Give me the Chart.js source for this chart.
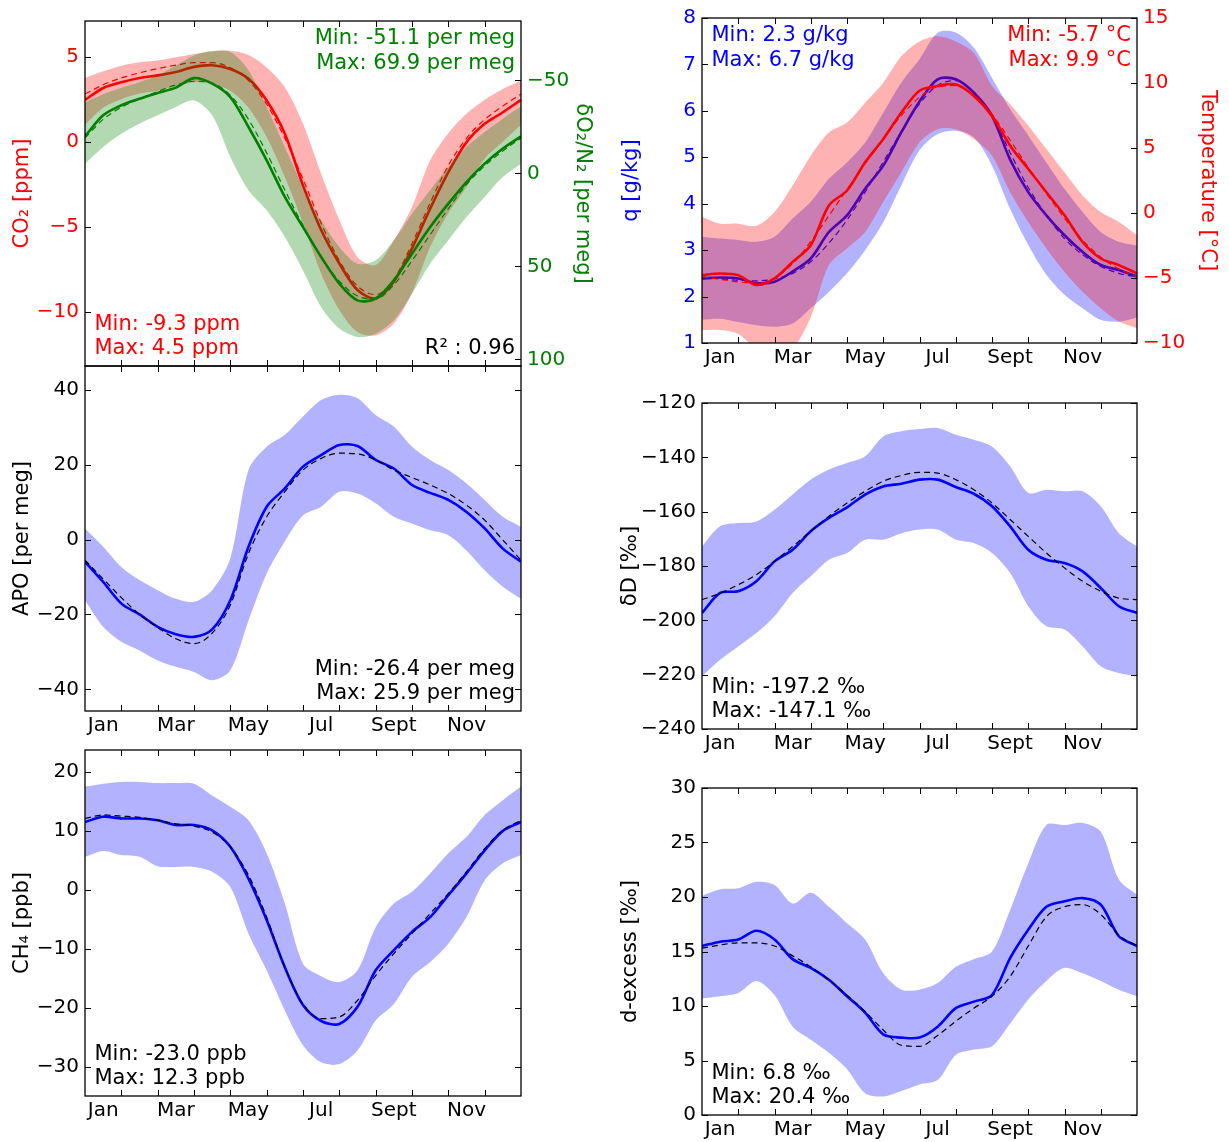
<!DOCTYPE html>
<html>
<head>
<meta charset="utf-8">
<script src="https://cdn.jsdelivr.net/npm/chart.js@4.4.0/dist/chart.umd.min.js"></script>
<style>
  body { margin: 0; background: #fff; width: 1229px; height: 1142px; position: relative; overflow: hidden; }
  canvas { position: absolute; }
</style>
</head>
<body>
<canvas id="cA"></canvas>
<canvas id="cB"></canvas>
<canvas id="cC"></canvas>
<canvas id="cD"></canvas>
<canvas id="cE"></canvas>
<canvas id="cF"></canvas>
<script>
// x positions in months (0 = 1 Jan, 12 = 31 Dec), one point every half month
const MONTH_POS = [0, 0.5, 1, 1.5, 2, 2.5, 3, 3.5, 4, 4.5, 5, 5.5, 6, 6.5, 7, 7.5, 8, 8.5, 9, 9.5, 10, 10.5, 11, 11.5, 12];
const MONTH_EDGES = [1, 2, 3, 4, 5, 6, 7, 8, 9, 10, 11];
const LABEL_POS = [0.5, 2.5, 4.5, 6.5, 8.5, 10.5];
const MONTH_LABELS = ["Jan", "Mar", "May", "Jul", "Sept", "Nov"];

// tick labels
const CO2_TICKS = [-10, -5, 0, 5];
const O2_TICKS = [-50, 0, 50, 100];
const Q_TICKS = [1, 2, 3, 4, 5, 6, 7, 8];
const T_TICKS = [-10, -5, 0, 5, 10, 15];
const APO_TICKS = [-40, -20, 0, 20, 40];
const DD_TICKS = [-240, -220, -200, -180, -160, -140, -120];
const CH4_TICKS = [-30, -20, -10, 0, 10, 20];
const DEX_TICKS = [0, 5, 10, 15, 20, 25, 30];

// CO2 [ppm]
const co2Mean = [2.46, 3.16, 3.5, 3.75, 3.9, 4.1, 4.4, 4.5, 4.28, 3.7, 2.42, 0.46, -2.57, -5.2, -7.17, -8.73, -9.22, -8.24, -6.28, -3.94, -1.79, -0.03, 1.05, 1.73, 2.46];
const co2Fit = [2.8, 3.35, 3.75, 4.05, 4.3, 4.5, 4.65, 4.65, 4.35, 3.6, 2.2, 0.2, -2.2, -4.8, -7.0, -8.5, -9.0, -8.1, -6.0, -3.6, -1.4, 0.2, 1.3, 2.1, 2.8];
const co2Hi = [3.75, 4.14, 4.47, 4.67, 4.77, 4.96, 5.16, 5.31, 5.35, 5.1, 4.37, 3.2, 1.05, -1.9, -4.6, -6.8, -7.26, -5.8, -3.84, -1.1, 0.5, 1.64, 2.46, 3.1, 3.6];
const co2Lo = [1.0, 2.0, 2.5, 2.83, 3.0, 3.24, 3.5, 3.4, 3.0, 2.0, 0.27, -2.08, -4.8, -7.75, -9.9, -11.2, -11.4, -10.7, -8.9, -6.2, -4.2, -2.67, -1.0, 0.0, 1.0];

// dO2/N2 [per meg]
const o2Mean = [-19.9, -31.2, -36.6, -40.1, -43.2, -46.1, -51.2, -48.2, -41.0, -24.9, -7.0, 12.7, 28.9, 45.0, 59.3, 68.3, 67.4, 57.5, 43.2, 28.9, 16.3, 4.7, -5.2, -13.3, -19.9];
const o2Fit = [-19, -29, -35.5, -40, -44, -47.5, -49.5, -48.5, -42, -29, -11, 9, 28, 45, 58, 66, 67.5, 60, 47, 33, 19, 6, -4, -12, -19];
const o2Lo = [-38, -42.5, -46, -49, -52.7, -58, -63.4, -65.8, -65.2, -55.4, -35.7, -14.2, 7.3, 25.3, 39.6, 48.6, 46.8, 36, 21.7, 9.1, -3.4, -14.2, -22.2, -29.4, -36];
const o2Hi = [-5.2, -14.2, -21.3, -26.7, -31.2, -35.7, -39.2, -31.2, -8.8, 9.1, 19.9, 34.2, 52.2, 71.9, 83.5, 88, 86.2, 79, 64.7, 48.6, 36, 23.5, 12.7, 2, -5.2];

// q [g/kg]
const qMean = [2.39, 2.41, 2.39, 2.29, 2.32, 2.54, 2.82, 3.39, 3.75, 4.32, 4.82, 5.54, 6.2, 6.68, 6.68, 6.39, 5.89, 4.95, 4.25, 3.75, 3.32, 2.96, 2.68, 2.57, 2.43];
const qFit = [2.42, 2.38, 2.35, 2.34, 2.38, 2.5, 2.75, 3.15, 3.65, 4.25, 4.9, 5.55, 6.15, 6.55, 6.65, 6.4, 5.9, 5.1, 4.35, 3.75, 3.25, 2.9, 2.65, 2.5, 2.42];
const qHi = [3.29, 3.25, 3.22, 3.18, 3.29, 3.68, 4.04, 4.54, 4.89, 5.32, 5.96, 6.61, 7.11, 7.68, 7.69, 7.36, 6.71, 6.04, 5.47, 4.89, 4.32, 3.82, 3.39, 3.18, 3.1];
const qLo = [1.5, 1.52, 1.45, 1.38, 1.35, 1.42, 1.75, 2.1, 2.5, 3.0, 3.6, 4.4, 5.15, 5.5, 5.57, 5.43, 4.82, 3.89, 3.11, 2.47, 2.04, 1.75, 1.5, 1.46, 1.55];

// temperature [°C]
const tMean = [-4.78, -4.65, -4.78, -5.54, -5.03, -3.76, -2.48, 0.58, 1.73, 3.9, 5.69, 7.73, 9.4, 9.77, 9.9, 9.0, 7.47, 5.18, 3.39, 1.6, -0.18, -2.23, -3.5, -4.01, -4.65];
const tFit = [-4.9, -5.1, -5.3, -5.4, -5.0, -3.9, -2.2, -0.2, 1.8, 3.8, 5.7, 7.5, 8.9, 9.7, 9.8, 9.1, 7.6, 5.6, 3.5, 1.5, -0.4, -2.1, -3.4, -4.3, -4.9];
const tHi = [-0.31, -0.82, -0.82, -0.99, 0.07, 2.11, 4.41, 6.19, 6.96, 8.49, 10.02, 12.07, 13.2, 13.6, 13.2, 12.3, 9.77, 8.37, 6.71, 4.92, 3.13, 1.35, 0.07, -0.7, -1.72];
const tLo = [-9.0, -9.0, -9.3, -10.4, -10.6, -10.4, -8.0, -4.0, -2.73, -1.46, 0.84, 3.13, 5.43, 6.45, 6.45, 5.69, 4.41, 1.6, -0.7, -2.73, -4.53, -6.06, -7.33, -8.35, -8.86];

// APO [per meg]
const apoMean = [-5.9, -11.3, -17.1, -20.0, -23.3, -25.3, -26.0, -24.0, -16.2, -1.9, 8.8, 13.7, 19.5, 22.6, 25.3, 25.0, 21.3, 19.0, 14.6, 12.5, 10.6, 7.4, 3.0, -2.4, -5.9];
const apoFit = [-5.5, -10.5, -15.5, -20, -23.5, -26.5, -27.8, -25, -17.5, -3.7, 6.1, 12.8, 18.6, 21.7, 23.1, 22.9, 21.3, 18.6, 16.6, 14.6, 12.3, 9.2, 5.2, -0.1, -5.5];
const apoHi = [3.0, -1.9, -7.3, -10.8, -13.5, -15.8, -16.6, -13.5, -5.0, 18.6, 24.8, 28.0, 32.9, 37.3, 38.7, 37.8, 33.3, 30.2, 24.8, 21.3, 18.6, 15.0, 10.6, 6.1, 3.4];
const apoLo = [-16.2, -23.3, -27.3, -29.6, -32.3, -34.0, -35.4, -37.6, -34.9, -21.6, -9.1, -0.5, 6.5, 8.8, 12.8, 12.3, 9.7, 6.1, 4.3, 2.5, 1.2, -2.9, -8.2, -12.6, -15.8];

// dD [permil]
const ddMean = [-197.3, -189.9, -189.3, -185.6, -178.3, -174.0, -167.2, -162.3, -158.4, -153.7, -150.7, -149.7, -148.2, -148.2, -150.9, -153.4, -158.0, -165.4, -174.0, -177.7, -178.9, -182.0, -188.1, -194.8, -197.3];
const ddFit = [-192.4, -190, -186.9, -183.2, -178.3, -172.8, -167.2, -161.7, -156.8, -152.5, -148.8, -146.7, -145.5, -145.8, -148.2, -151.9, -156.8, -162.9, -169.1, -175.2, -180.7, -185.6, -189.3, -191.8, -192.4];
const ddHi = [-172.8, -165.4, -164.2, -163.6, -159.3, -153.7, -148.2, -144.5, -142.1, -139.6, -132.3, -130.4, -129.6, -129.2, -131.7, -133.5, -136.0, -143.3, -153.1, -151.9, -152.5, -152.5, -158.0, -167.9, -172.8];
const ddLo = [-220.6, -214.5, -209.6, -204.7, -198.5, -189.9, -183.8, -177.7, -175.2, -170.3, -170.3, -167.9, -166.6, -166.6, -170.3, -171.5, -175.2, -182.6, -194.8, -202.2, -203.4, -209.6, -216.9, -219.4, -220.6];

// CH4 [ppb]
const ch4Mean = [11.5, 12.4, 12.1, 12.1, 11.8, 11.0, 11.0, 10.1, 7.3, 1.9, -5.1, -13.1, -19.5, -22.2, -22.7, -19.8, -13.6, -10.2, -7.1, -4.6, -0.9, 2.8, 6.7, 10.0, 11.5];
const ch4Fit = [12.1, 12.7, 12.5, 12.3, 11.8, 11.2, 10.8, 9.8, 7.3, 2.5, -4.6, -13.1, -19.3, -21.8, -21.5, -18.7, -14.5, -10.8, -7.4, -4.0, -0.6, 3.1, 7.0, 10.1, 11.8];
const ch4Hi = [17.5, 18.0, 18.3, 18.3, 18.1, 18.1, 18.0, 16.0, 14.1, 11.8, 6.2, -2.3, -12.5, -14.6, -15.6, -13.6, -6.3, -2.3, -0.3, 2.8, 6.2, 9.0, 12.7, 15.2, 17.5];
const ch4Lo = [5.6, 6.6, 5.9, 5.6, 4.0, 3.9, 3.9, 3.1, 0.5, -7.4, -13.6, -20.4, -26.3, -29.2, -29.5, -27.2, -22.1, -19.3, -14.7, -12.2, -9.1, -4.6, 1.6, 4.5, 5.9];

// d-excess [permil]
const dexMean = [15.5, 15.9, 16.1, 16.9, 16.1, 14.3, 13.5, 12.4, 10.9, 9.4, 7.4, 7.1, 7.1, 8.1, 9.8, 10.4, 11.0, 14.4, 17.0, 19.1, 19.6, 19.9, 19.3, 16.4, 15.5];
const dexFit = [15.3, 15.6, 15.8, 15.8, 15.5, 14.6, 13.6, 12.4, 11.0, 9.5, 7.8, 6.4, 6.3, 7.3, 8.6, 9.8, 10.9, 12.7, 15.5, 18.2, 19.1, 19.3, 18.4, 16.5, 15.5];
const dexHi = [20.1, 20.7, 20.8, 21.4, 21.1, 19.4, 20.4, 19.1, 17.6, 16.1, 13.0, 11.5, 11.5, 12.1, 13.6, 14.3, 15.0, 18.8, 23.1, 26.6, 26.6, 26.8, 26.0, 21.6, 20.2];
const dexLo = [10.7, 10.9, 11.2, 12.3, 11.0, 8.1, 6.9, 5.7, 4.2, 2.0, 1.7, 2.2, 2.8, 3.2, 5.5, 6.0, 6.3, 8.4, 10.6, 12.3, 13.5, 13.0, 12.3, 11.5, 10.9];

const RED = "#ff0000";
const GREEN = "#008000";
const BLUE = "#0000ff";
const FONT = "'DejaVu Sans', sans-serif";
const TICK = 6;

Chart.defaults.font.family = FONT;
Chart.defaults.color = "#000";

const fmt = (v) => String(v).replace("-", "\u2212");
const pts = (vals) => MONTH_POS.map((m, i) => ({ x: m, y: vals[i] }));

function band(axis, hi, lo, colour) {
    return [
        { yAxisID: axis, data: pts(hi), borderWidth: 0, pointRadius: 0, tension: 0.3, fill: "+1", backgroundColor: colour },
        { yAxisID: axis, data: pts(lo), borderWidth: 0, pointRadius: 0, tension: 0.3, fill: false },
    ];
}

function line(axis, vals, colour) {
    return { yAxisID: axis, data: pts(vals), borderColor: colour, borderWidth: 2.6, pointRadius: 0, tension: 0.3, fill: false };
}

function dashed(axis, vals, colour) {
    return { yAxisID: axis, data: pts(vals), borderColor: colour, borderWidth: 1.2, borderDash: [6, 4], pointRadius: 0, cubicInterpolationMode: "monotone", fill: false };
}

// inward tick marks, frame and the Min/Max notes
const frame = {
    id: "frame",
    afterDatasetsDraw(chart, args, opts) {
        const { ctx, chartArea: a, scales } = chart;
        ctx.save();
        ctx.strokeStyle = "#000";
        ctx.lineWidth = 1;
        ctx.beginPath();
        MONTH_EDGES.forEach((m) => {
            const x = Math.round(scales.x.getPixelForValue(m)) + 0.5;
            ctx.moveTo(x, a.bottom);
            ctx.lineTo(x, a.bottom - TICK);
            ctx.moveTo(x, a.top);
            ctx.lineTo(x, a.top + TICK);
        });
        const both = !scales.y2;
        ["y", "y2"].forEach((id) => {
            const s = scales[id];
            if (!s) return;
            s.ticks.forEach((t) => {
                const y = Math.round(s.getPixelForValue(t.value)) + 0.5;
                if (s.position === "left" || both) {
                    ctx.moveTo(a.left, y);
                    ctx.lineTo(a.left + TICK, y);
                }
                if (s.position === "right" || both) {
                    ctx.moveTo(a.right, y);
                    ctx.lineTo(a.right - TICK, y);
                }
            });
        });
        ctx.stroke();
        ctx.lineWidth = 1.3;
        ctx.strokeRect(a.left, a.top, a.width, a.height);

        ctx.font = "21px " + FONT;
        ctx.textBaseline = "alphabetic";
        (opts.notes || []).forEach((n) => {
            ctx.fillStyle = n.color;
            ctx.textAlign = n.side;
            const x = n.side === "right" ? a.right - 6 : a.left + 9.5;
            const y = n.corner === "top" ? a.top + 23 + n.row * 24.5 : a.bottom - 36 + n.row * 24;
            ctx.fillText(n.text, x, y);
        });
        ctx.restore();
    },
};

function yAxis(ax, leftW, rightW) {
    return {
        type: "linear",
        position: ax.pos,
        min: ax.min,
        max: ax.max,
        reverse: !!ax.reverse,
        grid: { display: false, drawTicks: false },
        border: { display: false },
        afterBuildTicks: (s) => { s.ticks = ax.ticks.map((v) => ({ value: v })); },
        afterFit: (s) => { s.width = ax.pos === "left" ? leftW : rightW; },
        ticks: { color: ax.color, font: { size: 20 }, padding: 6, callback: (v) => fmt(v) },
        title: { display: true, text: ax.title, color: ax.color, font: { size: 21 }, padding: { top: ax.titlePad, bottom: 0 } },
    };
}

function panel(id, box, plot, cfg) {
    const cv = document.getElementById(id);
    cv.width = box.w;
    cv.height = box.h;
    cv.style.left = box.x + "px";
    cv.style.top = box.y + "px";
    const leftW = plot.l - box.x;
    const rightW = box.x + box.w - plot.r;
    const bottomH = box.y + box.h - plot.b;

    const scales = {
        x: {
            type: "linear",
            min: 0,
            max: 12,
            grid: { display: false, drawTicks: false },
            border: { display: false },
            afterBuildTicks: (s) => { s.ticks = LABEL_POS.map((v) => ({ value: v })); },
            afterFit: (s) => { s.height = bottomH; },
            ticks: { display: cfg.xLabels, autoSkip: false, maxRotation: 0, font: { size: 20 }, padding: 3, callback: (v, i) => MONTH_LABELS[i] },
        },
    };
    Object.entries(cfg.axes).forEach(([k, ax]) => { scales[k] = yAxis(ax, leftW, rightW); });

    const n = cfg.datasets.length;
    cfg.datasets.forEach((d, i) => { d.order = n - i; });

    new Chart(cv.getContext("2d"), {
        type: "line",
        data: { datasets: cfg.datasets },
        options: {
            responsive: false,
            animation: false,
            layout: { padding: { top: plot.t - box.y, right: cfg.axes.y2 ? 0 : rightW, bottom: 0, left: 0 } },
            scales,
            plugins: { legend: { display: false }, tooltip: { enabled: false }, frame: { notes: cfg.notes } },
        },
        plugins: [frame],
    });
}

const RED_BAND = "rgba(255,0,0,0.3)";
const GREEN_BAND = "rgba(0,128,0,0.3)";
const BLUE_BAND = "rgba(0,0,255,0.3)";

panel("cA", { x: 0, y: 0, w: 610, h: 390 }, { l: 85, t: 21, r: 521, b: 366 }, {
    xLabels: false,
    axes: {
        y: { pos: "left", min: -13.2, max: 7.1, ticks: CO2_TICKS, color: RED, title: "CO\u2082 [ppm]", titlePad: 9.5 },
        y2: { pos: "right", min: -81.9, max: 103.6, reverse: true, ticks: O2_TICKS, color: GREEN, title: "\u03b4O\u2082/N\u2082 [per meg]", titlePad: 15 },
    },
    datasets: [
        ...band("y", co2Hi, co2Lo, RED_BAND), line("y", co2Mean, RED), dashed("y", co2Fit, RED),
        ...band("y2", o2Hi, o2Lo, GREEN_BAND), line("y2", o2Mean, GREEN), dashed("y2", o2Fit, GREEN),
    ],
    notes: [
        { text: "Min: -51.1 per meg", color: GREEN, side: "right", corner: "top", row: 0 },
        { text: "Max: 69.9 per meg", color: GREEN, side: "right", corner: "top", row: 1 },
        { text: "Min: -9.3 ppm", color: RED, side: "left", corner: "bottom", row: 0 },
        { text: "Max: 4.5 ppm", color: RED, side: "left", corner: "bottom", row: 1 },
        { text: "R\u00b2 : 0.96", color: "#000", side: "right", corner: "bottom", row: 1 },
    ],
});

panel("cB", { x: 615, y: 0, w: 614, h: 380 }, { l: 702, t: 17, r: 1137, b: 343 }, {
    xLabels: true,
    axes: {
        y: { pos: "left", min: 1, max: 8, ticks: Q_TICKS, color: BLUE, title: "q [g/kg]", titlePad: 3.5 },
        y2: { pos: "right", min: -10, max: 15, ticks: T_TICKS, color: RED, title: "Temperature [\u00b0C]", titlePad: 8.5 },
    },
    datasets: [
        ...band("y", qHi, qLo, BLUE_BAND), line("y", qMean, BLUE), dashed("y", qFit, BLUE),
        ...band("y2", tHi, tLo, RED_BAND), line("y2", tMean, RED), dashed("y2", tFit, RED),
    ],
    notes: [
        { text: "Min: 2.3 g/kg", color: BLUE, side: "left", corner: "top", row: 0 },
        { text: "Max: 6.7 g/kg", color: BLUE, side: "left", corner: "top", row: 1 },
        { text: "Min: -5.7 \u00b0C", color: RED, side: "right", corner: "top", row: 0 },
        { text: "Max: 9.9 \u00b0C", color: RED, side: "right", corner: "top", row: 1 },
    ],
});

panel("cC", { x: 0, y: 340, w: 610, h: 410 }, { l: 85, t: 366, r: 521, b: 711 }, {
    xLabels: true,
    axes: { y: { pos: "left", min: -45.8, max: 46.4, ticks: APO_TICKS, color: "#000", title: "APO [per meg]", titlePad: 9.5 } },
    datasets: [...band("y", apoHi, apoLo, BLUE_BAND), line("y", apoMean, BLUE), dashed("y", apoFit, "#000")],
    notes: [
        { text: "Min: -26.4 per meg", color: "#000", side: "right", corner: "bottom", row: 0 },
        { text: "Max: 25.9 per meg", color: "#000", side: "right", corner: "bottom", row: 1 },
    ],
});

panel("cD", { x: 615, y: 380, w: 614, h: 380 }, { l: 702, t: 403, r: 1137, b: 729 }, {
    xLabels: true,
    axes: { y: { pos: "left", min: -240, max: -120, ticks: DD_TICKS, color: "#000", title: "\u03b4D [\u2030]", titlePad: 2.5 } },
    datasets: [...band("y", ddHi, ddLo, BLUE_BAND), line("y", ddMean, BLUE), dashed("y", ddFit, "#000")],
    notes: [
        { text: "Min: -197.2 \u2030", color: "#000", side: "left", corner: "bottom", row: 0 },
        { text: "Max: -147.1 \u2030", color: "#000", side: "left", corner: "bottom", row: 1 },
    ],
});

panel("cE", { x: 0, y: 728, w: 610, h: 414 }, { l: 85, t: 750, r: 521, b: 1096 }, {
    xLabels: true,
    axes: { y: { pos: "left", min: -34.9, max: 23.7, ticks: CH4_TICKS, color: "#000", title: "CH\u2084 [ppb]", titlePad: 9.5 } },
    datasets: [...band("y", ch4Hi, ch4Lo, BLUE_BAND), line("y", ch4Mean, BLUE), dashed("y", ch4Fit, "#000")],
    notes: [
        { text: "Min: -23.0 ppb", color: "#000", side: "left", corner: "bottom", row: 0 },
        { text: "Max: 12.3 ppb", color: "#000", side: "left", corner: "bottom", row: 1 },
    ],
});

panel("cF", { x: 615, y: 766, w: 614, h: 376 }, { l: 702, t: 788, r: 1137, b: 1115 }, {
    xLabels: true,
    axes: { y: { pos: "left", min: 0, max: 30, ticks: DEX_TICKS, color: "#000", title: "d-excess [\u2030]", titlePad: 2.5 } },
    datasets: [...band("y", dexHi, dexLo, BLUE_BAND), line("y", dexMean, BLUE), dashed("y", dexFit, "#000")],
    notes: [
        { text: "Min: 6.8 \u2030", color: "#000", side: "left", corner: "bottom", row: 0 },
        { text: "Max: 20.4 \u2030", color: "#000", side: "left", corner: "bottom", row: 1 },
    ],
});
</script>
</body>
</html>
